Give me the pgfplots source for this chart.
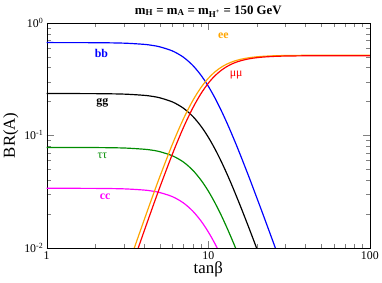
\documentclass[border=0pt]{standalone}
\usepackage{fontspec}
\setmainfont{Liberation Serif}
\usepackage{pgfplots}
\pgfplotsset{compat=1.18}
\definecolor{cgreen}{RGB}{0,140,0}
\definecolor{cmag}{RGB}{255,0,255}
\definecolor{corange}{RGB}{255,165,0}
\definecolor{cblue}{RGB}{0,0,255}
\definecolor{cred}{RGB}{255,0,0}
\begin{document}
\begin{tikzpicture}
\begin{axis}[
  scale only axis,
  width=326bp, height=227bp,
  xmode=log, ymode=log,
  xmin=1, xmax=100, ymin=0.01, ymax=1,
  xtick={1,10,100}, xticklabels={1,10,100},
  ytick={0.01,0.1,1}, yticklabels={10\textsuperscript{-2},10\textsuperscript{-1},10\textsuperscript{0}},
  tick align=inside,
  major tick length=7bp, minor tick length=4bp,
  tick label style={font=\fontsize{12}{13}\selectfont},
  xlabel={tanβ}, ylabel={BR(A)},
  label style={font=\fontsize{17}{18}\selectfont},
  xlabel style={yshift=4bp},
  ylabel style={yshift=-1bp},
  title={\bfseries m\textsubscript{H} = m\textsubscript{A} = m\textsubscript{H\textsuperscript{+}} = 150 GeV},
  title style={font=\fontsize{13}{14}\selectfont, yshift=-4bp},
  clip=true,
  every axis plot/.append style={line width=1.2pt, smooth},
]
\addplot[cblue] coordinates {(1,0.6669)(2,0.6655)(3,0.6593)(4,0.6433)(4.5,0.6298)(5,0.6119)(6,0.5621)(7,0.4956)(8,0.4195)(9,0.3430)(10,0.2734)(11,0.2146)(12,0.1673)(13,0.1305)(14,0.1021)(15,0.0805)(16,0.0639)(18,0.0414)(20,0.0277)(22,0.0192)(25,0.01165)(28,0.00745)};
\addplot[black] coordinates {(1,0.2350)(2,0.2345)(3,0.2323)(4,0.2266)(4.5,0.2219)(5,0.2156)(6,0.1980)(7,0.1746)(8,0.1478)(9,0.1208)(10,0.0963)(11,0.0756)(12,0.0590)(13,0.0460)(14,0.0360)(15,0.0283)(16,0.0225)(18,0.01458)(20,0.00978)(22,0.00677)};
\addplot[cgreen] coordinates {(1,0.0780)(2,0.0778)(3,0.0771)(4,0.0752)(4.5,0.0737)(5,0.0716)(6,0.0657)(7,0.0580)(8,0.0491)(9,0.0401)(10,0.0320)(11,0.0251)(12,0.0196)(13,0.01526)(14,0.01194)(15,0.00941)(16,0.00747)};
\addplot[cmag] coordinates {(1,0.0338)(2,0.03372)(3,0.03341)(4,0.03260)(4.5,0.03192)(5,0.03101)(6,0.02848)(7,0.02512)(8,0.02126)(9,0.01738)(10,0.01385)(11,0.01087)(12,0.00848)(13,0.00661)};
\addplot[corange] coordinates {(3,0.005355)(3.5,0.010137)(4,0.017502)(4.5,0.028102)(5,0.042444)(6,0.083394)(7,0.13884)(8,0.20224)(9,0.26507)(10,0.32074)(11,0.36632)(12,0.40183)(13,0.42871)(14,0.44885)(15,0.46384)(16,0.47504)(18,0.48987)(20,0.49857)(22,0.50387)(25,0.50843)(28,0.51090)(30,0.51193)(40,0.51408)(50,0.51464)(70,0.51491)(100,0.51498)};
\addplot[cred] coordinates {(3,0.004245)(3.5,0.00805)(4,0.01394)(4.5,0.02247)(5,0.03414)(6,0.06819)(7,0.11611)(8,0.17369)(9,0.23389)(10,0.29005)(11,0.33817)(12,0.37705)(13,0.40735)(14,0.43056)(15,0.44812)(16,0.46140)(18,0.47923)(20,0.48979)(22,0.49628)(25,0.50189)(28,0.50493)(30,0.50620)(40,0.50886)(50,0.50955)(70,0.50989)(100,0.51)};
\node[cblue, font=\bfseries\fontsize{12}{13}\selectfont] at (axis cs:2.18,0.533) {bb};
\node[black, font=\bfseries\fontsize{12}{13}\selectfont] at (axis cs:2.21,0.193) {gg};
\node[cgreen, font=\fontsize{12}{13}\selectfont] at (axis cs:2.21,0.066) {ττ};
\node[cmag, font=\bfseries\fontsize{12}{13}\selectfont] at (axis cs:2.30,0.0287) {cc};
\node[corange, font=\bfseries\fontsize{12}{13}\selectfont] at (axis cs:12.4,0.768) {ee};
\node[cred, font=\fontsize{12}{13}\selectfont] at (axis cs:14.9,0.341) {μμ};
\end{axis}
\path (current axis.south west) ++(-45bp,-35bp) rectangle ++(382bp,285bp);
\end{tikzpicture}
\end{document}
